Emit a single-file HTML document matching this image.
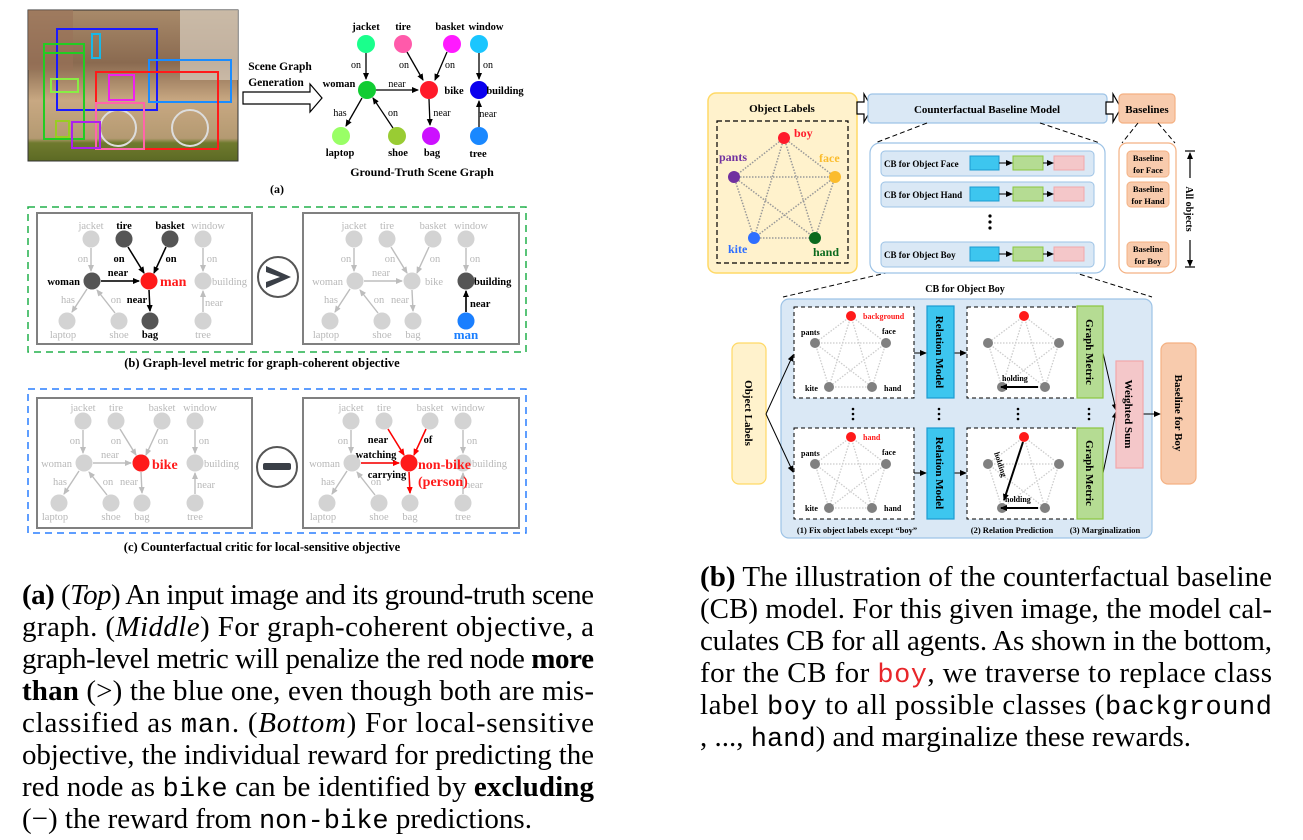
<!DOCTYPE html>
<html><head><meta charset="utf-8"><style>
html,body{margin:0;padding:0;background:#fff;}
svg{display:block;}
text{font-family:"Liberation Serif",serif;}
.b{font-weight:bold;}
.g{fill:#b8b8b8;font-size:10.5px;}
.mono{font-family:"Liberation Mono",monospace;}
</style></head><body>
<svg width="1303" height="840" viewBox="0 0 1303 840" xmlns="http://www.w3.org/2000/svg">
<defs>
<marker id="ak" markerWidth="8" markerHeight="8" refX="6" refY="3" orient="auto" markerUnits="userSpaceOnUse"><path d="M0,0 L7,3 L0,6 z" fill="#000"/></marker>
<marker id="ag" markerWidth="8" markerHeight="8" refX="6" refY="3" orient="auto" markerUnits="userSpaceOnUse"><path d="M0,0 L7,3 L0,6 z" fill="#bdbdbd"/></marker>
<marker id="ar" markerWidth="8" markerHeight="8" refX="6" refY="3" orient="auto" markerUnits="userSpaceOnUse"><path d="M0,0 L7,3 L0,6 z" fill="#f00"/></marker>
<linearGradient id="ph" x1="0" y1="0" x2="0" y2="1">
<stop offset="0" stop-color="#a88a6a"/><stop offset="0.35" stop-color="#8a6a50"/><stop offset="0.6" stop-color="#c8a882"/><stop offset="0.85" stop-color="#b49a72"/><stop offset="0.88" stop-color="#6f7a2e"/><stop offset="1" stop-color="#5c6a24"/>
</linearGradient>
<g id="gt">
<g stroke="#bdbdbd" stroke-width="1.4" fill="none" marker-end="url(#ag)">
<path d="M91 248 L91 271"/><path d="M128 247 L144 273"/><path d="M166 247 L154 273"/><path d="M203 248 L203 271"/>
<path d="M101 281 L139 281"/><path d="M87 289 L72 312"/><path d="M115 313 L97 290"/><path d="M149 290 L150 311"/><path d="M203 312 L203 291"/>
</g>
<g fill="#d3d3d3">
<circle cx="91" cy="239" r="8.5"/><circle cx="124" cy="239" r="8.5"/><circle cx="170" cy="239" r="8.5"/><circle cx="203" cy="239" r="8.5"/>
<circle cx="92" cy="281" r="8.5"/><circle cx="149" cy="281" r="8.5"/><circle cx="203" cy="281" r="8.5"/>
<circle cx="67" cy="321" r="8.5"/><circle cx="119" cy="321" r="8.5"/><circle cx="150" cy="321" r="8.5"/><circle cx="203" cy="321" r="8.5"/>
</g>
<g class="g" text-anchor="middle">
<text x="91" y="229">jacket</text><text x="208" y="229">window</text>
<text x="83" y="262">on</text><text x="212" y="262">on</text>
<text x="68" y="303">has</text><text x="116" y="303">on</text>
<text x="63" y="338">laptop</text><text x="119" y="338">shoe</text>
</g>
</g>
</defs>

<!-- (a) photo -->
<rect x="28" y="10" width="210" height="151" fill="url(#ph)" stroke="#333"/>
<rect x="28" y="10" width="45" height="60" fill="#9a7258" opacity="0.6"/>
<rect x="180" y="10" width="58" height="70" fill="#d8cfc0" opacity="0.7"/>
<circle cx="118" cy="128" r="18" fill="none" stroke="#ddd" stroke-width="2"/>
<circle cx="190" cy="128" r="18" fill="none" stroke="#ddd" stroke-width="2"/>
<g fill="none" stroke-width="2">
<rect x="57" y="29" width="100" height="81" stroke="#1a1aff"/>
<rect x="92" y="34" width="8" height="24" stroke="#19b8e6"/>
<rect x="44" y="44" width="40" height="95" stroke="#22cc22"/>
<line x1="44" y1="53" x2="84" y2="53" stroke="#22cc22"/>
<rect x="51" y="79" width="27" height="13" stroke="#88ee44"/>
<rect x="149" y="60" width="82" height="42" stroke="#1a8cff"/>
<rect x="96" y="72" width="122" height="77" stroke="#ff1a1a"/>
<rect x="109" y="75" width="25" height="25" stroke="#ee22ee"/>
<rect x="96" y="103" width="48" height="46" stroke="#ff66aa"/>
<rect x="56" y="121" width="13" height="16" stroke="#99cc22"/>
<rect x="72" y="122" width="28" height="26" stroke="#aa22ee"/>
</g>
<text x="280" y="70" text-anchor="middle" class="b" font-size="11.5">Scene Graph</text>
<text x="276" y="86" text-anchor="middle" class="b" font-size="11.5">Generation</text>
<path d="M243 92 L310 92 L310 84 L322 98 L310 112 L310 104 L243 104 Z" fill="#fff" stroke="#000" stroke-width="1.2"/>

<!-- scene graph -->
<g stroke="#000" stroke-width="1.3" marker-end="url(#ak)">
<path d="M366 53 L366 79"/><path d="M407 52 L423 80"/><path d="M447 52 L435 80"/><path d="M479 53 L479 79"/>
<path d="M376 90 L418 90"/><path d="M362 98 L346 126"/><path d="M393 128 L373 98"/><path d="M429 99 L430 125"/><path d="M479 127 L479 101"/>
</g>
<circle cx="366" cy="44" r="9" fill="#1aff8c"/><circle cx="403" cy="44" r="9" fill="#ff5aaa"/><circle cx="452" cy="44" r="9" fill="#ff1aff"/><circle cx="479" cy="44" r="9" fill="#1ac6ff"/>
<circle cx="367" cy="90" r="9" fill="#11cc33"/><circle cx="429" cy="90" r="9" fill="#ff1a2a"/><circle cx="479" cy="90" r="9" fill="#0a00ee"/>
<circle cx="341" cy="136" r="9" fill="#99ff66"/><circle cx="397" cy="136" r="9" fill="#99cc33"/><circle cx="431" cy="136" r="9" fill="#cc11ff"/><circle cx="479" cy="136" r="9" fill="#1a88ff"/>
<g class="b" font-size="10.5" text-anchor="middle">
<text x="366" y="30">jacket</text><text x="403" y="30">tire</text><text x="450" y="30">basket</text><text x="486" y="30">window</text>
<text x="339" y="87" >woman</text><text x="454" y="94">bike</text><text x="505" y="94">building</text>
<text x="340" y="156">laptop</text><text x="398" y="156">shoe</text><text x="432" y="156">bag</text><text x="478" y="157">tree</text>
</g>
<g font-size="10" text-anchor="middle">
<text x="356" y="68">on</text><text x="404" y="68">on</text><text x="450" y="68">on</text><text x="488" y="68">on</text>
<text x="397" y="87">near</text><text x="340" y="116">has</text><text x="393" y="116">on</text><text x="442" y="116">near</text><text x="488" y="117">near</text>
</g>
<text x="422" y="176" text-anchor="middle" class="b" font-size="12">Ground-Truth Scene Graph</text>
<text x="277" y="193" text-anchor="middle" class="b" font-size="12">(a)</text>

<!-- (b) -->
<rect x="28" y="207" width="498" height="145" fill="none" stroke="#22b14c" stroke-width="1.5" stroke-dasharray="7,5"/>
<rect x="37" y="213" width="215" height="131" fill="none" stroke="#808080" stroke-width="2"/>
<rect x="303" y="213" width="216" height="131" fill="none" stroke="#808080" stroke-width="2"/>
<use href="#gt"/>
<g stroke="#000" stroke-width="1.5" marker-end="url(#ak)">
<path d="M128 247 L144 273"/><path d="M166 247 L154 273"/><path d="M101 281 L139 281"/><path d="M149 290 L150 311"/>
</g>
<circle cx="124" cy="239" r="8.5" fill="#555"/><circle cx="170" cy="239" r="8.5" fill="#555"/><circle cx="92" cy="281" r="8.5" fill="#555"/><circle cx="150" cy="321" r="8.5" fill="#555"/><circle cx="149" cy="281" r="8.5" fill="#ff1a1a"/>
<g class="g" text-anchor="middle"><text x="203" y="338">tree</text><text x="214" y="306">near</text><text x="212" y="285" text-anchor="start">building</text></g>
<g class="b" font-size="10.5" text-anchor="middle">
<text x="124" y="229">tire</text><text x="170" y="229">basket</text><text x="119" y="262">on</text><text x="171" y="262">on</text>
<text x="80" y="285" text-anchor="end">woman</text><text x="118" y="276">near</text><text x="137" y="303">near</text><text x="150" y="338">bag</text>
</g>
<text x="160" y="286" class="b" font-size="14" fill="#ff1a1a">man</text>
<circle cx="278" cy="277" r="20" fill="#fff" stroke="#555" stroke-width="2"/>
<path d="M266 266 L291 277 L266 288 L266 282 L280 277 L266 272 Z" fill="#3a3f47"/>

<g transform="translate(263,0)">
<use href="#gt"/>
<path d="M203 312 L203 291" stroke="#000" stroke-width="1.6" marker-end="url(#ak)"/>
<circle cx="203" cy="281" r="8.5" fill="#555"/><circle cx="203" cy="321" r="8.5" fill="#1a7fff"/>
<g class="g" text-anchor="middle">
<text x="124" y="229">tire</text><text x="170" y="229">basket</text><text x="127" y="262">on</text><text x="172" y="262">on</text>
<text x="80" y="285" text-anchor="end">woman</text><text x="118" y="276">near</text><text x="162" y="285" text-anchor="start">bike</text><text x="137" y="303">near</text><text x="150" y="338">bag</text>
</g>
<text x="211" y="285" class="b" font-size="10.5">building</text>
<text x="207" y="307" class="b" font-size="10.5">near</text>
<text x="203" y="339" class="b" font-size="13" fill="#1a7fff" text-anchor="middle">man</text>
</g>
<text x="262" y="367" text-anchor="middle" class="b" font-size="12.5">(b)  Graph-level metric for graph-coherent objective</text>

<!-- (c) -->
<rect x="28" y="389" width="498" height="144" fill="none" stroke="#2a7fff" stroke-width="1.5" stroke-dasharray="7,5"/>
<rect x="37" y="398" width="215" height="130" fill="none" stroke="#808080" stroke-width="2"/>
<rect x="303" y="398" width="216" height="130" fill="none" stroke="#808080" stroke-width="2"/>
<g transform="translate(-8,182)">
<use href="#gt"/>
<circle cx="149" cy="281" r="8.5" fill="#ff1a1a"/>
<g class="g" text-anchor="middle">
<text x="124" y="229">tire</text><text x="170" y="229">basket</text><text x="124" y="262">on</text><text x="171" y="262">on</text>
<text x="80" y="285" text-anchor="end">woman</text><text x="118" y="276">near</text><text x="212" y="285" text-anchor="start">building</text><text x="137" y="303">near</text><text x="150" y="338">bag</text><text x="203" y="338">tree</text><text x="214" y="306">near</text>
</g>
<text x="160" y="287" class="b" font-size="14" fill="#ff1a1a">bike</text>
</g>
<circle cx="277" cy="467" r="20" fill="#fff" stroke="#555" stroke-width="2"/>
<rect x="263" y="463" width="28" height="7" rx="2" fill="#3a3f47"/>
<g transform="translate(260,182)">
<use href="#gt"/>
<g stroke="#f00" stroke-width="1.5" marker-end="url(#ar)">
<path d="M128 247 L144 273"/><path d="M166 247 L154 273"/><path d="M101 281 L139 281"/><path d="M149 290 L150 311"/>
</g>
<circle cx="149" cy="281" r="8.5" fill="#ff1a1a"/>
<g class="g" text-anchor="middle">
<text x="124" y="229">tire</text><text x="170" y="229">basket</text>
<text x="80" y="285" text-anchor="end">woman</text><text x="212" y="285" text-anchor="start">building</text><text x="150" y="338">bag</text><text x="203" y="338">tree</text><text x="214" y="306">near</text>
</g>
</g>
<g class="b" font-size="10.5" text-anchor="middle">
<text x="378" y="443">near</text><text x="428" y="443">of</text><text x="376" y="458">watching</text><text x="387" y="478">carrying</text>
</g>
<text x="418" y="469" class="b" font-size="14" fill="#ff1a1a">non-bike</text>
<text x="418" y="486" class="b" font-size="14" fill="#ff1a1a">(person)</text>
<text x="262" y="551" text-anchor="middle" class="b" font-size="12.5">(c)  Counterfactual critic for local-sensitive objective</text>

<!-- right top -->
<rect x="708" y="93" width="149" height="180" rx="8" fill="#fff2cc" stroke="#ffd966" stroke-width="1.5"/>
<text x="782" y="112" text-anchor="middle" class="b" font-size="11">Object Labels</text>
<rect x="717" y="121" width="131" height="142" fill="none" stroke="#000" stroke-width="1.2" stroke-dasharray="5,3"/>
<g stroke="#999" stroke-width="1.5" stroke-dasharray="1.5,1.5">
<line x1="784" y1="138" x2="734" y2="177"/><line x1="784" y1="138" x2="835" y2="177"/><line x1="784" y1="138" x2="754" y2="238"/><line x1="784" y1="138" x2="815" y2="238"/>
<line x1="734" y1="177" x2="835" y2="177"/><line x1="734" y1="177" x2="754" y2="238"/><line x1="734" y1="177" x2="815" y2="238"/>
<line x1="835" y1="177" x2="754" y2="238"/><line x1="835" y1="177" x2="815" y2="238"/><line x1="754" y1="238" x2="815" y2="238"/>
</g>
<circle cx="784" cy="138" r="6" fill="#ff1a2a"/><circle cx="734" cy="177" r="6" fill="#7030a0"/><circle cx="835" cy="177" r="6" fill="#fbbc2c"/><circle cx="754" cy="238" r="6" fill="#2f6fff"/><circle cx="815" cy="238" r="6" fill="#0b6a1e"/>
<g class="b" font-size="12">
<text x="794" y="137" fill="#ff1a2a">boy</text><text x="719" y="161" fill="#7030a0">pants</text><text x="819" y="162" fill="#fbbc2c">face</text><text x="728" y="253" fill="#2f6fff">kite</text><text x="813" y="256" fill="#0b6a1e">hand</text>
</g>
<path d="M857 102 L864 102 L864 94 L872 108 L864 122 L864 114 L857 114 Z" fill="#fff" stroke="#000" stroke-width="1.2"/>
<rect x="868" y="94" width="239" height="29" rx="4" fill="#dae8f5" stroke="#9dc3e6" stroke-width="1.2"/>
<text x="987" y="113" text-anchor="middle" class="b" font-size="11">Counterfactual Baseline Model</text>
<path d="M1106 102 L1113 102 L1113 94 L1121 108 L1113 122 L1113 114 L1106 114 Z" fill="#fff" stroke="#000" stroke-width="1.2"/>
<rect x="1119" y="94" width="56" height="29" rx="4" fill="#f8cbad" stroke="#f4b183" stroke-width="1.2"/>
<text x="1147" y="113" text-anchor="middle" class="b" font-size="11">Baselines</text>
<g stroke="#000" stroke-width="1" stroke-dasharray="5,3" fill="none">
<line x1="927" y1="123" x2="875" y2="143"/><line x1="1040" y1="123" x2="1100" y2="143"/>
<line x1="1138" y1="123" x2="1122" y2="143"/><line x1="1158" y1="123" x2="1175" y2="143"/>
<line x1="912" y1="267" x2="783" y2="297"/><line x1="1057" y1="267" x2="1152" y2="297"/>
</g>
<rect x="870" y="143" width="235" height="130" rx="10" fill="#fff" stroke="#9dc3e6" stroke-width="1.2"/>
<g font-size="9" class="b">
<rect x="881" y="151" width="213" height="25" rx="4" fill="#dae8f5" stroke="#9dc3e6"/><text x="884" y="167">CB for Object Face</text>
<rect x="881" y="182" width="213" height="25" rx="4" fill="#dae8f5" stroke="#9dc3e6"/><text x="884" y="198">CB for Object Hand</text>
<rect x="881" y="242" width="213" height="25" rx="4" fill="#dae8f5" stroke="#9dc3e6"/><text x="884" y="258">CB for Object Boy</text>
</g>
<g>
<rect x="970" y="156" width="29" height="14" fill="#3dc6ef" stroke="#1c9bd1"/><rect x="1013" y="156" width="30" height="14" fill="#b5dc93" stroke="#8cc63e"/><rect x="1054" y="156" width="30" height="14" fill="#f4c7c9" stroke="#f2a7ab"/>
<rect x="970" y="187" width="29" height="14" fill="#3dc6ef" stroke="#1c9bd1"/><rect x="1013" y="187" width="30" height="14" fill="#b5dc93" stroke="#8cc63e"/><rect x="1054" y="187" width="30" height="14" fill="#f4c7c9" stroke="#f2a7ab"/>
<rect x="970" y="247" width="29" height="14" fill="#3dc6ef" stroke="#1c9bd1"/><rect x="1013" y="247" width="30" height="14" fill="#b5dc93" stroke="#8cc63e"/><rect x="1054" y="247" width="30" height="14" fill="#f4c7c9" stroke="#f2a7ab"/>
</g>
<g stroke="#000" stroke-width="1" marker-end="url(#ak)">
<line x1="999" y1="163" x2="1012" y2="163"/><line x1="1043" y1="163" x2="1053" y2="163"/>
<line x1="999" y1="194" x2="1012" y2="194"/><line x1="1043" y1="194" x2="1053" y2="194"/>
<line x1="999" y1="254" x2="1012" y2="254"/><line x1="1043" y1="254" x2="1053" y2="254"/>
</g>
<g fill="#000"><circle cx="990" cy="216" r="1.6"/><circle cx="990" cy="222" r="1.6"/><circle cx="990" cy="228" r="1.6"/>
<circle cx="1148" cy="218" r="1.6"/><circle cx="1148" cy="224" r="1.6"/><circle cx="1148" cy="230" r="1.6"/></g>
<rect x="1119" y="143" width="57" height="130" rx="8" fill="#fff" stroke="#f4b183" stroke-width="1.2"/>
<g font-size="8.5" class="b" text-anchor="middle">
<rect x="1127" y="151" width="42" height="26" rx="4" fill="#f8cbad" stroke="#f4b183"/><text x="1148" y="161">Baseline</text><text x="1148" y="173">for Face</text>
<rect x="1127" y="182" width="42" height="25" rx="4" fill="#f8cbad" stroke="#f4b183"/><text x="1148" y="192">Baseline</text><text x="1148" y="204">for Hand</text>
<rect x="1127" y="242" width="42" height="25" rx="4" fill="#f8cbad" stroke="#f4b183"/><text x="1148" y="252">Baseline</text><text x="1148" y="264">for Boy</text>
</g>
<g stroke="#000" stroke-width="1.2"><line x1="1190" y1="178" x2="1190" y2="153" marker-end="url(#ak)"/><line x1="1190" y1="240" x2="1190" y2="266" marker-end="url(#ak)"/>
<line x1="1185" y1="151" x2="1195" y2="151"/><line x1="1185" y1="267" x2="1195" y2="267"/></g>
<text transform="translate(1186,209) rotate(90)" text-anchor="middle" class="b" font-size="10">All objects</text>

<!-- right bottom -->
<text x="965" y="292" text-anchor="middle" class="b" font-size="10">CB for Object Boy</text>
<rect x="781" y="299" width="371" height="239" rx="8" fill="#dae8f5" stroke="#9dc3e6" stroke-width="1.2"/>
<rect x="732" y="343" width="34" height="141" rx="7" fill="#fff2cc" stroke="#ffd966" stroke-width="1.2"/>
<text transform="translate(745,413) rotate(90)" text-anchor="middle" class="b" font-size="11">Object Labels</text>
<g stroke="#000" stroke-width="1" marker-end="url(#ak)">
<line x1="766" y1="414" x2="793" y2="355"/><line x1="766" y1="414" x2="793" y2="472"/>
<line x1="914" y1="353" x2="926" y2="353"/><line x1="914" y1="473" x2="926" y2="473"/>
<line x1="954" y1="353" x2="966" y2="353"/><line x1="954" y1="473" x2="966" y2="473"/>
<line x1="1063" y1="353" x2="1076" y2="353"/><line x1="1063" y1="473" x2="1076" y2="473"/>
<line x1="1103" y1="353" x2="1116" y2="410"/><line x1="1103" y1="473" x2="1116" y2="412"/>
<line x1="1143" y1="414" x2="1160" y2="414"/>
</g>
<g id="pg">
<rect x="794" y="307" width="120" height="91" fill="#fff" stroke="#000" stroke-dasharray="4,3"/>
<g stroke="#ccc" stroke-width="1.3" stroke-dasharray="1.5,1.5">
<line x1="851" y1="316" x2="815" y2="343"/><line x1="851" y1="316" x2="886" y2="343"/><line x1="851" y1="316" x2="829" y2="387"/><line x1="851" y1="316" x2="872" y2="387"/>
<line x1="815" y1="343" x2="886" y2="343"/><line x1="815" y1="343" x2="829" y2="387"/><line x1="815" y1="343" x2="872" y2="387"/>
<line x1="886" y1="343" x2="829" y2="387"/><line x1="886" y1="343" x2="872" y2="387"/><line x1="829" y1="387" x2="872" y2="387"/>
</g>
<circle cx="851" cy="316" r="5" fill="#ff1a1a"/><circle cx="815" cy="343" r="5" fill="#808080"/><circle cx="886" cy="343" r="5" fill="#808080"/><circle cx="829" cy="387" r="5" fill="#808080"/><circle cx="872" cy="387" r="5" fill="#808080"/>
</g>
<g transform="translate(0,121)"><use href="#pg"/></g>
<g transform="translate(173,0)"><use href="#pg"/></g>
<g transform="translate(173,121)"><use href="#pg"/></g>
<g class="b" font-size="8">
<text x="863" y="319" fill="#ff1a1a">background</text><text x="801" y="335">pants</text><text x="882" y="334">face</text><text x="805" y="391">kite</text><text x="884" y="391">hand</text>
<text x="863" y="440" fill="#ff1a1a">hand</text><text x="801" y="456">pants</text><text x="882" y="455">face</text><text x="805" y="511">kite</text><text x="884" y="511">hand</text>
<text x="1002" y="381">holding</text><text x="1005" y="502">holding</text>
<text transform="translate(994,453) rotate(72)">holding</text>
</g>
<g stroke="#000" stroke-width="2" marker-end="url(#ak)">
<line x1="1038" y1="387" x2="1001" y2="387"/><line x1="1038" y1="508" x2="1001" y2="508"/><line x1="1023" y1="442" x2="1004" y2="500"/>
</g>
<g>
<rect x="927" y="306" width="27" height="92" fill="#3dc6ef" stroke="#1c9bd1" stroke-width="1.2"/>
<rect x="927" y="428" width="27" height="91" fill="#3dc6ef" stroke="#1c9bd1" stroke-width="1.2"/>
<rect x="1077" y="306" width="26" height="92" fill="#b5dc93" stroke="#8cc63e" stroke-width="1.2"/>
<rect x="1077" y="428" width="26" height="91" fill="#b5dc93" stroke="#8cc63e" stroke-width="1.2"/>
<rect x="1116" y="361" width="27" height="107" fill="#f4c7c9" stroke="#f2a7ab" stroke-width="1.2"/>
<rect x="1161" y="343" width="35" height="141" rx="7" fill="#f8cbad" stroke="#f4b183" stroke-width="1.2"/>
</g>
<g class="b" font-size="11" text-anchor="middle">
<text transform="translate(936,352) rotate(90)">Relation Model</text>
<text transform="translate(936,473) rotate(90)">Relation Model</text>
<text transform="translate(1086,352) rotate(90)">Graph Metric</text>
<text transform="translate(1086,473) rotate(90)">Graph Metric</text>
<text transform="translate(1125,414) rotate(90)">Weighted Sum</text>
<text transform="translate(1175,413) rotate(90)">Baseline for Boy</text>
</g>
<g fill="#000">
<circle cx="853" cy="409" r="1.3"/><circle cx="853" cy="414" r="1.3"/><circle cx="853" cy="419" r="1.3"/>
<circle cx="939" cy="409" r="1.3"/><circle cx="939" cy="414" r="1.3"/><circle cx="939" cy="419" r="1.3"/>
<circle cx="1018" cy="409" r="1.3"/><circle cx="1018" cy="414" r="1.3"/><circle cx="1018" cy="419" r="1.3"/>
<circle cx="1089" cy="409" r="1.3"/><circle cx="1089" cy="414" r="1.3"/><circle cx="1089" cy="419" r="1.3"/>
</g>
<g class="b" font-size="8.5" text-anchor="middle">
<text x="857" y="533">(1) Fix object labels except “boy”</text><text x="1012" y="533">(2) Relation Prediction</text><text x="1105" y="533">(3) Marginalization</text>
</g>

<!-- captions -->
<g font-size="29">
<text x="22" y="604" textLength="572" lengthAdjust="spacing"><tspan class="b">(a)</tspan> (<tspan font-style="italic">Top</tspan>) An input image and its ground-truth scene</text>
<text x="22" y="636" textLength="572" lengthAdjust="spacing">graph. (<tspan font-style="italic">Middle</tspan>) For graph-coherent objective, a</text>
<text x="22" y="668" textLength="572" lengthAdjust="spacing">graph-level metric will penalize the red node <tspan class="b">more</tspan></text>
<text x="22" y="700" textLength="572" lengthAdjust="spacing"><tspan class="b">than</tspan> (&gt;) the blue one, even though both are mis-</text>
<text x="22" y="732" textLength="572" lengthAdjust="spacing">classified as <tspan class="mono" font-size="27">man</tspan>. (<tspan font-style="italic">Bottom</tspan>) For local-sensitive</text>
<text x="22" y="764" textLength="572" lengthAdjust="spacing">objective, the individual reward for predicting the</text>
<text x="22" y="796" textLength="572" lengthAdjust="spacing">red node as <tspan class="mono" font-size="27">bike</tspan> can be identified by <tspan class="b">excluding</tspan></text>
<text x="22" y="828">(−) the reward from <tspan class="mono" font-size="27">non-bike</tspan> predictions.</text>
<text x="700" y="586" textLength="572" lengthAdjust="spacing"><tspan class="b">(b)</tspan> The illustration of the counterfactual baseline</text>
<text x="700" y="618" textLength="572" lengthAdjust="spacing">(CB) model. For this given image, the model cal-</text>
<text x="700" y="650" textLength="572" lengthAdjust="spacing">culates CB for all agents. As shown in the bottom,</text>
<text x="700" y="682" textLength="572" lengthAdjust="spacing">for the CB for <tspan class="mono" font-size="27" fill="#e8262a">boy</tspan>, we traverse to replace class</text>
<text x="700" y="714" textLength="572" lengthAdjust="spacing">label <tspan class="mono" font-size="27">boy</tspan> to all possible classes (<tspan class="mono" font-size="27">background</tspan></text>
<text x="700" y="746">, ..., <tspan class="mono" font-size="27">hand</tspan>) and marginalize these rewards.</text>
</g>
</svg>
</body></html>
